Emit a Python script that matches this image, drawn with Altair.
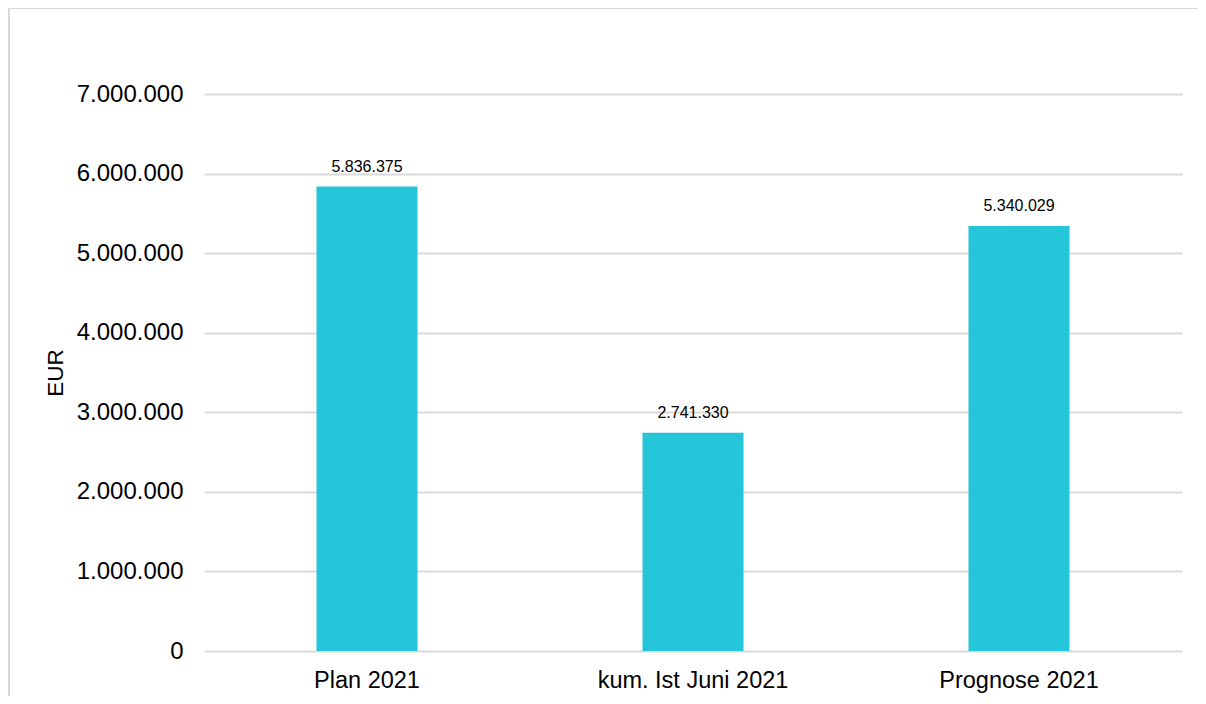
import altair as alt
import pandas as pd

categories = ["Plan 2021", "kum. Ist Juni 2021", "Prognose 2021"]
values = [5836375, 2741330, 5340029]
y_ticks = [0, 1000000, 2000000, 3000000, 4000000, 5000000, 6000000, 7000000]

df = pd.DataFrame({"cat": categories, "value": values})

FONT = "Liberation Sans"
BAR = "#26c6da"
GRID = "#d9d9d9"

W, H = 978, 557

base = alt.Chart(df)

bars = base.mark_bar(color=BAR).encode(
    x=alt.X("cat:N", sort=categories,
            scale=alt.Scale(paddingInner=0.69, paddingOuter=0.345),
            axis=alt.Axis(title=None, labelAngle=0, labelFontSize=23.5, labelFont=FONT,
                          labelColor="#000000", labelPadding=17, labelLimit=400,
                          ticks=False, domain=False, grid=False)),
    y=alt.Y("value:Q", scale=alt.Scale(domain=[0, 7000000], nice=False),
            axis=alt.Axis(title="EUR", values=y_ticks, format=",d", labelFontSize=24,
                          labelFont=FONT, labelColor="#000000", labelPadding=21,
                          ticks=False, domain=False, grid=True, gridColor=GRID,
                          gridWidth=2, titleFont=FONT, titleFontSize=22.5,
                          titleFontWeight="normal", titleColor="#000000",
                          titleAngle=-90, titleX=-149, titleY=H / 2,
                          titleAlign="center", titleBaseline="middle")),
)

labels = base.mark_text(font=FONT, fontSize=16, color="#000000",
                        baseline="bottom", dy=-12).encode(
    x=alt.X("cat:N", sort=categories),
    y=alt.Y("value:Q"),
    text=alt.Text("value:Q", format=",d"),
)

frame_df = pd.DataFrame({"a": [0]})
top_border = alt.Chart(frame_df).mark_rule(color=GRID, strokeWidth=2, clip=False).encode(
    x=alt.value(-196), x2=alt.value(1010), y=alt.value(-86)
)
left_border = alt.Chart(frame_df).mark_rule(color=GRID, strokeWidth=2, clip=False).encode(
    x=alt.value(-195), y=alt.value(-87), y2=alt.value(620)
)

chart = alt.layer(bars, labels, top_border, left_border).properties(
    width=W, height=H,
    autosize=alt.AutoSizeParams(type="none"),
    padding={"left": 196, "top": 86, "right": 16, "bottom": 45},
).configure(
    locale={"number": {"decimal": ",", "thousands": ".", "grouping": [3],
                       "currency": ["", " €"]}}
).configure_view(stroke=None).configure_axis(labelFont=FONT)

chart.save("out.html", embed_options={"renderer": "svg", "actions": False})
